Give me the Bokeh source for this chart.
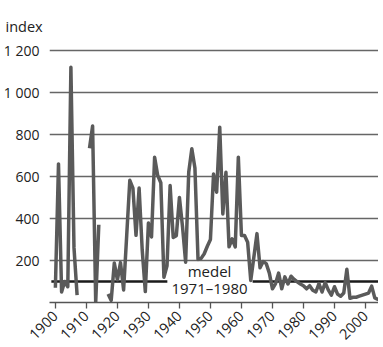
import math
import numpy as np
from bokeh.plotting import figure
from bokeh.models import FixedTicker, Label
from bokeh.embed import file_html
from bokeh.resources import INLINE

# ---- data ----
years = list(range(1900, 2006))
vals = {
    1900: 70, 1901: 660, 1902: 50, 1903: 100, 1904: 75, 1905: 1120, 1906: 260, 1907: 35,
    1911: 735, 1912: 840, 1913: 0, 1914: 370,
    1917: 40, 1918: 10, 1919: 188, 1920: 108, 1921: 190, 1922: 60, 1923: 320, 1924: 582,
    1925: 545, 1926: 320, 1927: 545, 1928: 250, 1929: 52, 1930: 378, 1931: 312, 1932: 692,
    1933: 605, 1934: 570, 1935: 120, 1936: 175, 1937: 557, 1938: 310, 1939: 318, 1940: 500,
    1941: 360, 1942: 192, 1943: 620, 1944: 732, 1945: 640, 1946: 205, 1947: 210, 1948: 232,
    1949: 268, 1950: 300, 1951: 612, 1952: 525, 1953: 835, 1954: 422, 1955: 620, 1956: 265,
    1957: 303, 1958: 265, 1959: 692, 1960: 319, 1961: 319, 1962: 287, 1963: 105, 1964: 215,
    1965: 328, 1966: 165, 1967: 195, 1968: 185, 1969: 140, 1970: 65, 1971: 90, 1972: 140,
    1973: 65, 1974: 122, 1975: 88, 1976: 125, 1977: 110, 1978: 98, 1979: 88, 1980: 80,
    1981: 65, 1982: 80, 1983: 58, 1984: 50, 1985: 90, 1986: 50, 1987: 95, 1988: 60,
    1989: 35, 1990: 75, 1991: 40, 1992: 30, 1993: 45, 1994: 158, 1995: 20, 1996: 25,
    1997: 25, 1998: 30, 1999: 35, 2000: 40, 2001: 45, 2002: 78, 2003: 22, 2004: 15, 2005: 12,
}
index_values = [vals.get(y, np.nan) for y in years]

mean_value = 100
mean_x0 = [1898.7, 1963.6]
mean_x1 = [1936.1, 2006.0]

y_ticks = [200, 400, 600, 800, 1000, 1200]
y_tick_labels = ["200", "400", "600", "800", "1 000", "1 200"]
x_ticks = list(range(1900, 2001, 10))

FONT = "Open Sans"

p = figure(frame_width=329, frame_height=256, output_backend="svg", toolbar_location=None,
           x_range=(1898.1, 2004.2), y_range=(0, 1219),
           min_border_left=46, min_border_right=0, min_border_top=46, min_border_bottom=37)
p.outline_line_color = None

p.title.text = "index"
p.title.align = "left"
p.title.text_font = FONT
p.title.text_font_size = "14.5px"
p.title.text_font_style = "normal"
p.title.text_color = "#222222"
p.title.offset = -44
p.title.standoff = 22

# y axis
p.yaxis.ticker = FixedTicker(ticks=y_ticks)
p.yaxis.major_label_overrides = {t: l for t, l in zip(y_ticks, y_tick_labels)}
p.yaxis.axis_line_color = None
p.yaxis.major_tick_line_color = None
p.yaxis.minor_tick_line_color = None
p.yaxis.major_label_standoff = 4
p.yaxis.major_label_text_font = FONT
p.yaxis.major_label_text_font_size = "14px"
p.yaxis.major_label_text_color = "#222222"

p.ygrid.ticker = FixedTicker(ticks=y_ticks)
p.ygrid.grid_line_color = "#666666"
p.ygrid.grid_line_width = 1.3
p.xgrid.grid_line_color = None

# x axis
p.xaxis.ticker = FixedTicker(ticks=x_ticks)
p.xaxis.axis_line_color = "#555555"
p.xaxis.axis_line_width = 1.5
p.xaxis.major_tick_line_color = "#555555"
p.xaxis.major_tick_line_width = 1.3
p.xaxis.major_tick_in = 0
p.xaxis.major_tick_out = 6
p.xaxis.minor_tick_line_color = None
p.xaxis.major_label_orientation = math.pi / 4
p.xaxis.major_label_text_font = FONT
p.xaxis.major_label_text_font_size = "14.5px"
p.xaxis.major_label_text_color = "#222222"
p.xaxis.major_label_standoff = 5

# mean line
p.segment(x0=mean_x0, y0=[mean_value] * 2, x1=mean_x1, y1=[mean_value] * 2,
          line_color="#1a1a1a", line_width=2.5)

# data
p.line(years, index_values, line_color="#5a5a5a", line_width=3.5, line_join="round")

for txt, yv in [("medel", 152), ("1971–1980", 67)]:
    p.add_layout(Label(x=1949.7, y=yv, text=txt, text_align="center", text_baseline="middle",
                       text_font=FONT, text_font_size="15px", text_color="#222222"))

open("out.html", "w").write(file_html(p, INLINE))
